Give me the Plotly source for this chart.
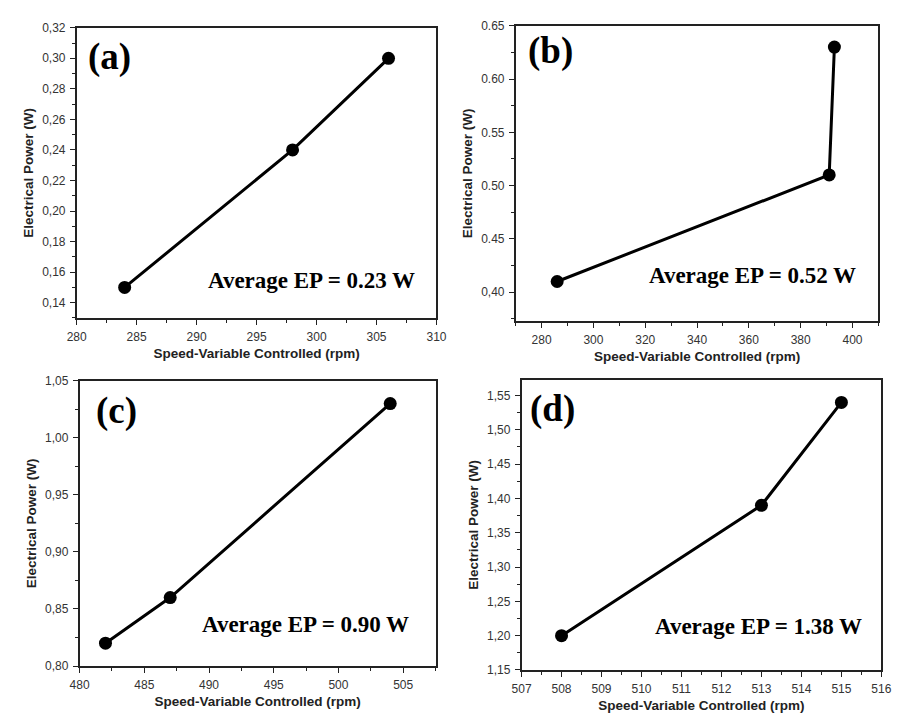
import plotly.graph_objects as go

# ---------------- data ----------------
speed_a = [284, 298, 306]
power_a = [0.15, 0.24, 0.30]
speed_b = [286, 391, 393]
power_b = [0.41, 0.51, 0.63]
speed_c = [482, 487, 504]
power_c = [0.82, 0.86, 1.03]
speed_d = [508, 513, 515]
power_d = [1.20, 1.39, 1.54]

labels = ["(a)", "(b)", "(c)", "(d)"]
avg_texts = ["Average EP = 0.23 W", "Average EP = 0.52 W", "Average EP = 0.90 W", "Average EP = 1.38 W"]

xt_a = [280, 285, 290, 295, 300, 305, 310]
yt_a = [0.14, 0.16, 0.18, 0.20, 0.22, 0.24, 0.26, 0.28, 0.30, 0.32]
ytl_a = ["0,14", "0,16", "0,18", "0,20", "0,22", "0,24", "0,26", "0,28", "0,30", "0,32"]
xt_b = [280, 300, 320, 340, 360, 380, 400]
yt_b = [0.40, 0.45, 0.50, 0.55, 0.60, 0.65]
ytl_b = ["0,40", "0.45", "0.50", "0.55", "0.60", "0.65"]
xt_c = [480, 485, 490, 495, 500, 505]
yt_c = [0.80, 0.85, 0.90, 0.95, 1.00, 1.05]
ytl_c = ["0,80", "0,85", "0,90", "0,95", "1,00", "1,05"]
xt_d = [507, 508, 509, 510, 511, 512, 513, 514, 515, 516]
yt_d = [1.15, 1.20, 1.25, 1.30, 1.35, 1.40, 1.45, 1.50, 1.55]
ytl_d = ["1,15", "1,20", "1,25", "1,30", "1,35", "1,40", "1,45", "1,50", "1,55"]

x_title = "Speed-Variable Controlled (rpm)"
y_title = "Electrical Power (W)"

W, H = 900, 717
# pixel boxes of each plot area (left, right, top, bottom)
boxes = [(60, 428, 13, 309), (509, 880, 11, 312), (63, 427, 373, 664), (515, 883, 372, 668)]
xranges = [[280, 310], [270, 410], [480, 507.5], [507, 516]]
yranges = [[0.13, 0.32], [0.373, 0.65], [0.80, 1.05], [1.15, 1.573]]
xminor = [2.5, 10, 2.5, 0.5]
yminor = [0.01, 0.025, 0.025, 0.025]
label_pos = [(0.09, 0.90), (0.097, 0.914), (0.104, 0.893), (0.087, 0.899)]
avg_pos = [(0.652, 0.13), (0.652, 0.153), (0.635, 0.144), (0.658, 0.149)]

series = [(speed_a, power_a, xt_a, yt_a, ytl_a),
          (speed_b, power_b, xt_b, yt_b, ytl_b),
          (speed_c, power_c, xt_c, yt_c, ytl_c),
          (speed_d, power_d, xt_d, yt_d, ytl_d)]

fig = go.Figure()
layout = {}
annotations = []
tickfont = dict(family="Liberation Sans", size=12, color="#333333")
titlefont = dict(family="Liberation Sans", size=13.5, color="#222222", weight="bold")
for i, ((xs, ys, xt, yt, ytl), box) in enumerate(zip(series, boxes)):
    n = "" if i == 0 else str(i + 1)
    l, r, t, b = box
    fig.add_trace(go.Scatter(x=xs, y=ys, mode="lines+markers",
                             line=dict(color="black", width=3),
                             marker=dict(color="black", size=13),
                             xaxis="x" + n, yaxis="y" + n, showlegend=False))
    common = dict(showline=True, linecolor="#222222", linewidth=1.5, mirror=True,
                  ticks="outside", ticklen=5, tickwidth=1.2, tickcolor="#222222",
                  showgrid=False, zeroline=False, tickfont=tickfont, ticklabelstandoff=2)
    layout["xaxis" + n] = dict(common, domain=[l / W, r / W], range=xranges[i],
                               tickvals=xt, anchor="y" + n,
                               minor=dict(ticks="outside", ticklen=3, dtick=xminor[i],
                                          tickcolor="#222222", showgrid=False),
                               title=dict(text=x_title, font=titlefont, standoff=5))
    layout["yaxis" + n] = dict(common, domain=[1 - b / H, 1 - t / H], range=yranges[i],
                               tickvals=yt, ticktext=ytl, anchor="x" + n,
                               minor=dict(ticks="outside", ticklen=3, dtick=yminor[i],
                                          tickcolor="#222222", showgrid=False),
                               title=dict(text=y_title, font=titlefont, standoff=5))
    annotations.append(dict(text=labels[i], xref="x" + n + " domain", yref="y" + n + " domain",
                            x=label_pos[i][0], y=label_pos[i][1], showarrow=False,
                            xanchor="center", yanchor="middle",
                            font=dict(family="Liberation Serif", size=37, color="black", weight="bold")))
    annotations.append(dict(text=avg_texts[i], xref="x" + n + " domain", yref="y" + n + " domain",
                            x=avg_pos[i][0], y=avg_pos[i][1], showarrow=False,
                            xanchor="center", yanchor="middle",
                            font=dict(family="Liberation Serif", size=23, color="black", weight="bold")))

fig.update_layout(**layout)
fig.update_layout(width=W, height=H, margin=dict(l=0, r=0, t=0, b=0),
                  paper_bgcolor="white", plot_bgcolor="white",
                  annotations=annotations)
fig.write_html("out.html")
